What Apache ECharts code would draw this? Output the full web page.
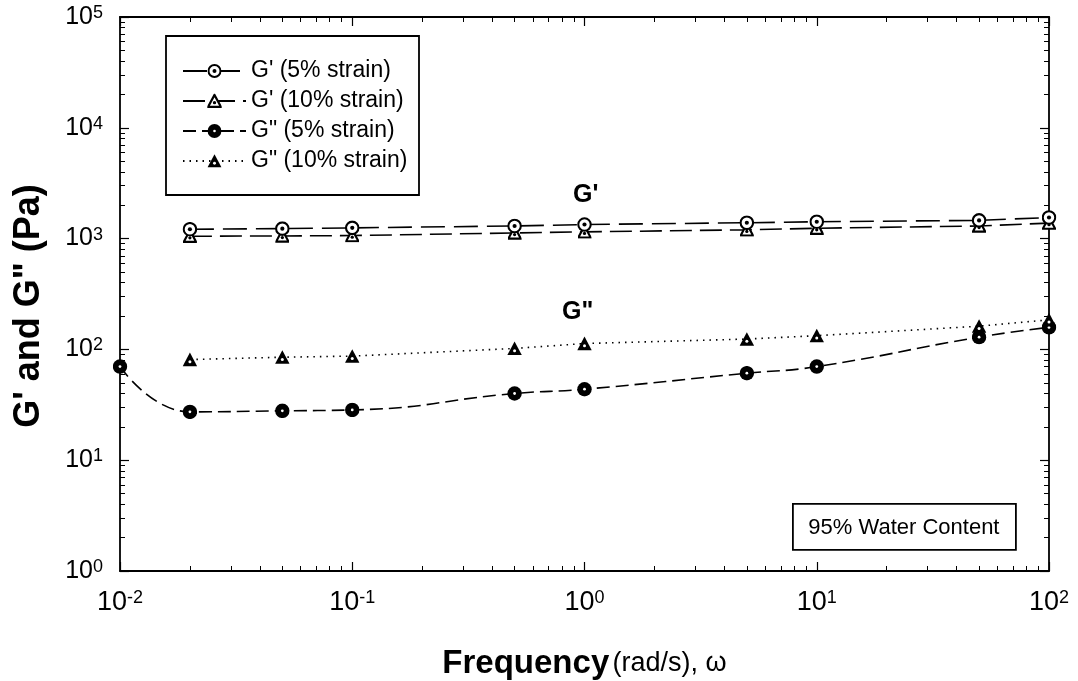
<!DOCTYPE html>
<html>
<head>
<meta charset="utf-8">
<script src="https://cdn.jsdelivr.net/npm/echarts@6/dist/echarts.min.js"></script>
<style>
  html, body { margin: 0; padding: 0; background: #fff; }
  #chart { width: 1078px; height: 681px; }
</style>
</head>
<body>
<div id="chart"></div>
<script>
// Frequency sweep: storage (G') and loss (G'') moduli, 95% water content.
const freqGp = [0.02, 0.05, 0.1, 0.5, 1, 5, 10, 50, 100];
const gp5 = [1215, 1230, 1250, 1300, 1340, 1390, 1420, 1460, 1550];
const gp10 = [1050, 1057, 1065, 1125, 1150, 1200, 1240, 1300, 1380];
const freqGpp5 = [0.01, 0.02, 0.05, 0.1, 0.5, 1, 5, 10, 50, 100];
const gpp5 = [70, 27.3, 27.9, 28.4, 40, 43.7, 61, 70, 129, 158];
const freqGpp10 = [0.02, 0.05, 0.1, 0.5, 1, 5, 10, 50, 100];
const gpp10 = [81, 85, 87, 102, 113, 124, 133, 162, 185];

const seriesNames = ["G' (5% strain)", "G' (10% strain)", 'G" (5% strain)', 'G" (10% strain)'];

const FONT = '"Liberation Sans", Arial, sans-serif';
const pair = (xs, ys) => xs.map((x, i) => [x, ys[i]]);

// marker glyphs as tiny svgs (two-tone: black body, white pip)
const svgSym = (body) => 'image://data:image/svg+xml;utf8,' + encodeURIComponent(
  "<svg xmlns='http://www.w3.org/2000/svg' width='26' height='26' viewBox='0 0 26 26'>" + body + '</svg>');
const symRingDot = svgSym("<circle cx='13' cy='13' r='10.8' fill='white' stroke='black' stroke-width='3.6'/><circle cx='13' cy='13' r='3.6' fill='black'/>");
const symDisc = svgSym("<circle cx='13' cy='13' r='12.5' fill='black'/><circle cx='13' cy='13' r='2.4' fill='white'/>");
const symTri = svgSym("<polygon points='13,1 25.5,24.5 0.5,24.5' fill='black'/><circle cx='13' cy='17' r='2.6' fill='white'/>");
const symTriLight = svgSym("<polygon points='13,2 24.5,23.5 1.5,23.5' fill='white' stroke='black' stroke-width='4' stroke-linejoin='miter'/><circle cx='13' cy='16' r='3' fill='black'/>");

const supLabel = (v) => '10{s|' + Math.round(Math.log10(v)) + '}';

const logAxisCommon = {
  type: 'log',
  logBase: 10,
  axisLine: { show: true, onZero: false, lineStyle: { color: '#000', width: 1.8 } },
  axisTick: { show: true, inside: true, length: 9, lineStyle: { color: '#000', width: 1.2 } },
  minorTick: { show: true, splitNumber: 9, length: 5, lineStyle: { color: '#000', width: 1 } },
  splitLine: { show: false },
};

const chart = echarts.init(document.getElementById('chart'), null, { renderer: 'canvas' });

chart.setOption({
  animation: false,
  backgroundColor: '#fff',
  grid: { left: 120, right: 29, top: 17, bottom: 110, containLabel: false, outerBoundsMode: 'none' },
  xAxis: [
    Object.assign({}, logAxisCommon, {
      min: 0.01, max: 100, position: 'bottom',
      axisLabel: {
        formatter: supLabel, color: '#000', margin: 18,
        fontFamily: FONT, fontSize: 27,
        rich: { s: { fontSize: 18, fontFamily: FONT, color: '#000', verticalAlign: 'top', padding: [0, 0, 10, 0] } },
      },
      name: '{b|Frequency} {n|(rad/s), ω}',
      nameLocation: 'middle', nameGap: 76,
      nameTextStyle: {
        rich: {
          b: { fontSize: 33, fontWeight: 'bold', fontFamily: FONT, color: '#000' },
          n: { fontSize: 27, fontFamily: FONT, color: '#000' },
        },
      },
    }),
    Object.assign({}, logAxisCommon, {
      min: 0.01, max: 100, position: 'top',
      axisLabel: { show: false },
    }),
  ],
  yAxis: [
    Object.assign({}, logAxisCommon, {
      min: 1, max: 100000, position: 'left',
      axisLabel: {
        formatter: supLabel, color: '#000', margin: 17,
        fontFamily: FONT, fontSize: 25,
        rich: { s: { fontSize: 18, fontFamily: FONT, color: '#000', verticalAlign: 'top', padding: [0, 0, 8, 0] } },
      },
    }),
    Object.assign({}, logAxisCommon, {
      min: 1, max: 100000, position: 'right',
      axisLabel: { show: false },
    }),
  ],
  legend: {
    orient: 'vertical',
    left: 182, top: 59,
    padding: 0,
    itemGap: 6,
    itemWidth: 63, itemHeight: 18,
    textStyle: { fontSize: 23, fontFamily: FONT, color: '#000', lineHeight: 24 },
    data: seriesNames,
    z: 6,
  },
  graphic: [
    // legend frame (the last label runs into it, as in the source figure)
    { type: 'rect', z: 1, shape: { x: 166, y: 36, width: 253, height: 159 }, style: { fill: '#fff', stroke: '#000', lineWidth: 1.8 } },
    // y-axis title
    { type: 'text', x: 29, y: 306, rotation: Math.PI / 2,
      style: { text: 'G\' and G" (Pa)', font: 'bold 36px ' + FONT, fill: '#000', align: 'center', verticalAlign: 'middle' } },
    { type: 'text', left: 573, top: 183, style: { text: "G'", font: 'bold 25px ' + FONT, fill: '#000' } },
    { type: 'text', left: 562, top: 300, style: { text: 'G"', font: 'bold 25px ' + FONT, fill: '#000' } },
    {
      type: 'group', left: 792, top: 503,
      children: [
        { type: 'rect', shape: { x: 0, y: 0, width: 223, height: 46 }, style: { fill: '#fff', stroke: '#000', lineWidth: 1.8 } },
        { type: 'text', x: 111, y: 24, style: { text: '95% Water Content', font: '22px ' + FONT, fill: '#000', align: 'center', verticalAlign: 'middle' } },
      ],
    },
  ],
  series: [
    {
      name: seriesNames[0], type: 'line', data: pair(freqGp, gp5),
      symbol: symRingDot, symbolSize: 15,
      itemStyle: { color: '#000' },
      lineStyle: { color: '#000', width: 1.6, type: [24, 9] },
      z: 3,
    },
    {
      name: seriesNames[1], type: 'line', data: pair(freqGp, gp10),
      symbol: symTriLight, symbolSize: 14,
      itemStyle: { color: '#000' },
      lineStyle: { color: '#000', width: 1.6, type: [22, 8] },
      z: 2,
    },
    {
      name: seriesNames[2], type: 'line', data: pair(freqGpp5, gpp5),
      symbol: symDisc, symbolSize: 15,
      itemStyle: { color: '#000' },
      smooth: 0.5,
      lineStyle: { color: '#000', width: 1.6, type: [13, 6] },
    },
    {
      name: seriesNames[3], type: 'line', data: pair(freqGpp10, gpp10),
      symbol: symTri, symbolSize: 15,
      itemStyle: { color: '#000' },
      lineStyle: { color: '#000', width: 1.6, type: [1.5, 5] },
    },
  ],
});
</script>
</body>
</html>
